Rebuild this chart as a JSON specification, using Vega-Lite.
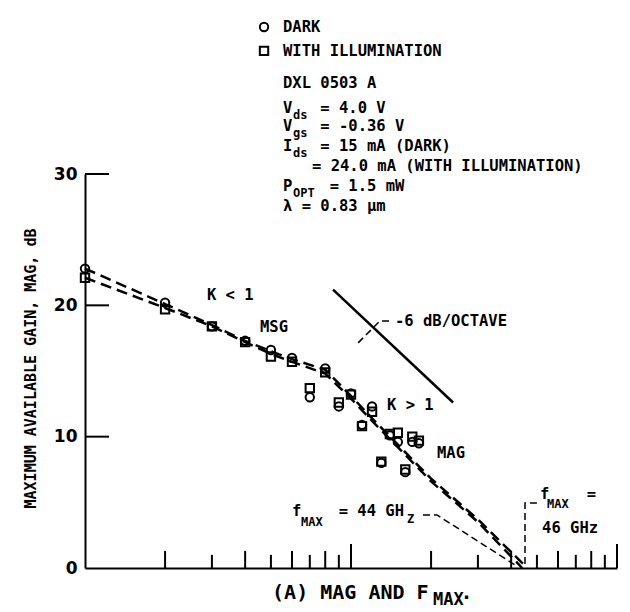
{
  "$schema": "https://vega.github.io/schema/vega-lite/v6.json",
  "width": 532,
  "height": 394,
  "autosize": {"type": "none"},
  "padding": {"left": 85, "top": 174, "right": 13, "bottom": 44},
  "background": "white",
  "config": {"view": {"stroke": null}},
  "datasets": {
    "pts": [
      {"f": 1, "g": 22.8, "s": "DARK"}, {"f": 2, "g": 20.2, "s": "DARK"}, {"f": 3, "g": 18.4, "s": "DARK"},
      {"f": 4, "g": 17.3, "s": "DARK"}, {"f": 5, "g": 16.6, "s": "DARK"}, {"f": 6, "g": 16.0, "s": "DARK"},
      {"f": 7, "g": 13.0, "s": "DARK"}, {"f": 8, "g": 15.2, "s": "DARK"}, {"f": 9, "g": 12.3, "s": "DARK"},
      {"f": 10, "g": 13.3, "s": "DARK"}, {"f": 11, "g": 10.9, "s": "DARK"}, {"f": 12, "g": 12.3, "s": "DARK"},
      {"f": 13, "g": 8.0, "s": "DARK"}, {"f": 14, "g": 10.1, "s": "DARK"}, {"f": 15, "g": 9.6, "s": "DARK"},
      {"f": 16, "g": 7.3, "s": "DARK"}, {"f": 17, "g": 9.6, "s": "DARK"}, {"f": 18, "g": 9.5, "s": "DARK"},
      {"f": 1, "g": 22.1, "s": "WITH ILLUMINATION"}, {"f": 2, "g": 19.7, "s": "WITH ILLUMINATION"}, {"f": 3, "g": 18.4, "s": "WITH ILLUMINATION"},
      {"f": 4, "g": 17.2, "s": "WITH ILLUMINATION"}, {"f": 5, "g": 16.1, "s": "WITH ILLUMINATION"}, {"f": 6, "g": 15.7, "s": "WITH ILLUMINATION"},
      {"f": 7, "g": 13.7, "s": "WITH ILLUMINATION"}, {"f": 8, "g": 14.9, "s": "WITH ILLUMINATION"}, {"f": 9, "g": 12.6, "s": "WITH ILLUMINATION"},
      {"f": 10, "g": 13.2, "s": "WITH ILLUMINATION"}, {"f": 11, "g": 10.8, "s": "WITH ILLUMINATION"}, {"f": 12, "g": 11.9, "s": "WITH ILLUMINATION"},
      {"f": 13, "g": 8.1, "s": "WITH ILLUMINATION"}, {"f": 14, "g": 10.2, "s": "WITH ILLUMINATION"}, {"f": 15, "g": 10.3, "s": "WITH ILLUMINATION"},
      {"f": 16, "g": 7.5, "s": "WITH ILLUMINATION"}, {"f": 17, "g": 10.0, "s": "WITH ILLUMINATION"}, {"f": 18, "g": 9.7, "s": "WITH ILLUMINATION"}
    ],
    "legend": [
      {"f": 4.71, "g": 41.19, "s": "DARK"},
      {"f": 4.71, "g": 39.37, "s": "WITH ILLUMINATION"}
    ],
    "curves": [
      {"f": 1, "g": 22.8, "c": "dark"}, {"f": 2, "g": 20.1, "c": "dark"}, {"f": 3, "g": 18.5, "c": "dark"},
      {"f": 4, "g": 17.3, "c": "dark"}, {"f": 5, "g": 16.5, "c": "dark"}, {"f": 6, "g": 15.9, "c": "dark"},
      {"f": 8, "g": 15.1, "c": "dark"}, {"f": 10, "g": 13.1, "c": "dark"}, {"f": 12, "g": 11.4, "c": "dark"},
      {"f": 15, "g": 9.4, "c": "dark"}, {"f": 20, "g": 6.8, "c": "dark"}, {"f": 25, "g": 5.1, "c": "dark"},
      {"f": 30, "g": 3.7, "c": "dark"}, {"f": 46, "g": 0, "c": "dark"},
      {"f": 1, "g": 22.1, "c": "illum"}, {"f": 2, "g": 19.8, "c": "illum"}, {"f": 3, "g": 18.4, "c": "illum"},
      {"f": 4, "g": 17.2, "c": "illum"}, {"f": 5, "g": 16.3, "c": "illum"}, {"f": 6, "g": 15.7, "c": "illum"},
      {"f": 8, "g": 14.8, "c": "illum"}, {"f": 10, "g": 12.9, "c": "illum"}, {"f": 12, "g": 11.2, "c": "illum"},
      {"f": 15, "g": 9.2, "c": "illum"}, {"f": 20, "g": 6.6, "c": "illum"}, {"f": 25, "g": 4.9, "c": "illum"},
      {"f": 30, "g": 3.5, "c": "illum"}, {"f": 44, "g": 0, "c": "illum"}
    ],
    "slope": [{"f": 8.56, "g": 21.2}, {"f": 24.2, "g": 12.6}],
    "leaders": [
      {"f": 18.65, "g": 4.04, "k": "a", "i": 1}, {"f": 21.05, "g": 4.04, "k": "a", "i": 2}, {"f": 41.36, "g": 0.23, "k": "a", "i": 3},
      {"f": 50.0, "g": 4.95, "k": "b", "i": 1}, {"f": 45.1, "g": 4.95, "k": "b", "i": 2}, {"f": 45.1, "g": 0, "k": "b", "i": 3},
      {"f": 13.9, "g": 18.81, "k": "c", "i": 1}, {"f": 12.85, "g": 18.81, "k": "c", "i": 2}, {"f": 10.62, "g": 17.13, "k": "c", "i": 3}
    ],
    "ytick": [{"g": 10}, {"g": 20}, {"g": 30}],
    "xtickA": [{"f": 10}, {"f": 100}],
    "xtickB": [{"f": 2}, {"f": 4}, {"f": 6}, {"f": 8}, {"f": 20}, {"f": 40}, {"f": 60}, {"f": 80}],
    "xtickC": [{"f": 3}, {"f": 5}, {"f": 7}, {"f": 9}, {"f": 30}, {"f": 50}, {"f": 70}, {"f": 90}],
    "labels": [
      {"f": 5.55, "g": 41.16, "t": "DARK"},
      {"f": 5.55, "g": 39.37, "t": "WITH ILLUMINATION"},
      {"f": 5.55, "g": 36.93, "t": "DXL 0503 A"},
      {"f": 5.55, "g": 35.03, "t": "V\u00a0\u00a0\u00a0= 4.0 V"},
      {"f": 5.55, "g": 33.66, "t": "V\u00a0\u00a0\u00a0= -0.36 V"},
      {"f": 5.55, "g": 32.13, "t": "I\u00a0\u00a0\u00a0= 15 mA (DARK)"},
      {"f": 7.135, "g": 30.61, "t": "= 24.0 mA (WITH ILLUMINATION)"},
      {"f": 5.55, "g": 29.09, "t": "P\u00a0\u00a0\u00a0\u00a0= 1.5 mW"},
      {"f": 5.55, "g": 27.56, "t": "λ = 0.83 μm"},
      {"f": 2.874, "g": 20.79, "t": "K < 1"},
      {"f": 4.55, "g": 18.35, "t": "MSG"},
      {"f": 13.66, "g": 12.41, "t": "K > 1"},
      {"f": 21.05, "g": 8.76, "t": "MAG"},
      {"f": 14.64, "g": 18.81, "t": "-6 dB/OCTAVE"},
      {"f": 6.0, "g": 4.34, "t": "f\u00a0\u00a0\u00a0\u00a0= 44 GH"},
      {"f": 51.35, "g": 5.63, "t": "f\u00a0\u00a0\u00a0\u00a0="},
      {"f": 52.3, "g": 3.05, "t": "46 GHz"}
    ],
    "caption": [
      {"f": 5.05, "g": -1.9, "t": "(A) MAG AND F"},
      {"f": 25.8, "g": -1.9, "t": "."}
    ],
    "subs": [
      {"f": 6.05, "g": 34.52, "t": "ds"},
      {"f": 6.05, "g": 33.15, "t": "gs"},
      {"f": 6.05, "g": 31.62, "t": "ds"},
      {"f": 6.05, "g": 28.58, "t": "OPT"},
      {"f": 6.49, "g": 3.5, "t": "MAX"},
      {"f": 16.24, "g": 3.73, "t": "Z"},
      {"f": 54.56, "g": 4.87, "t": "MAX"}
    ],
    "capsub": [
      {"f": 20.34, "g": -2.44, "t": "MAX"}
    ]
  },
  "layer": [
    {
      "data": {"name": "ytick"},
      "mark": {"type": "rule", "color": "black", "strokeWidth": 2},
      "encoding": {
        "y": {"field": "g", "type": "quantitative", "scale": {"domain": [0, 30], "nice": false},
          "axis": {"values": [0, 10, 20, 30], "ticks": false, "grid": false, "domainColor": "black", "domainWidth": 2,
            "labelFont": "DejaVu Sans", "labelFontWeight": "bold", "labelFontSize": 17, "labelColor": "black", "labelPadding": 8,
            "title": "MAXIMUM AVAILABLE GAIN, MAG, dB", "titleFont": "DejaVu Sans Mono", "titleFontWeight": "bold", "titleFontSize": 15,
            "titleColor": "black", "titleX": -55, "titleY": 194, "titleAngle": 270, "titleBaseline": "middle", "titleAlign": "center"}},
        "x": {"datum": 1, "type": "quantitative", "scale": {"type": "log", "domain": [1, 100], "nice": false},
          "axis": {"ticks": false, "labels": false, "grid": false, "title": null, "domainColor": "black", "domainWidth": 2}},
        "x2": {"datum": 1.231}
      }
    },
    {
      "data": {"name": "xtickA"},
      "mark": {"type": "rule", "color": "black", "strokeWidth": 2},
      "encoding": {"x": {"field": "f", "type": "quantitative"}, "y": {"datum": 0}, "y2": {"datum": 1.83}}
    },
    {
      "data": {"name": "xtickB"},
      "mark": {"type": "rule", "color": "black", "strokeWidth": 2},
      "encoding": {"x": {"field": "f", "type": "quantitative"}, "y": {"datum": 0}, "y2": {"datum": 1.3}}
    },
    {
      "data": {"name": "xtickC"},
      "mark": {"type": "rule", "color": "black", "strokeWidth": 2},
      "encoding": {"x": {"field": "f", "type": "quantitative"}, "y": {"datum": 0}, "y2": {"datum": 1.0}}
    },
    {
      "data": {"name": "curves"},
      "mark": {"type": "line", "color": "black", "strokeWidth": 2.5, "strokeDash": [11, 6]},
      "encoding": {"x": {"field": "f", "type": "quantitative"}, "y": {"field": "g", "type": "quantitative"}, "detail": {"field": "c"}}
    },
    {
      "data": {"name": "slope"},
      "mark": {"type": "line", "color": "black", "strokeWidth": 2.5},
      "encoding": {"x": {"field": "f", "type": "quantitative"}, "y": {"field": "g", "type": "quantitative"}}
    },
    {
      "data": {"name": "leaders"},
      "mark": {"type": "line", "color": "black", "strokeWidth": 1.5, "strokeDash": [7, 4]},
      "encoding": {"x": {"field": "f", "type": "quantitative"}, "y": {"field": "g", "type": "quantitative"}, "detail": {"field": "k"}, "order": {"field": "i"}}
    },
    {
      "data": {"name": "pts"},
      "mark": {"type": "point", "filled": false, "color": "black", "strokeWidth": 2, "size": 70, "opacity": 1},
      "encoding": {"x": {"field": "f", "type": "quantitative"}, "y": {"field": "g", "type": "quantitative"},
        "shape": {"field": "s", "type": "nominal", "scale": {"domain": ["DARK", "WITH ILLUMINATION"], "range": ["circle", "square"]}, "legend": null}}
    },
    {
      "data": {"name": "legend"},
      "mark": {"type": "point", "filled": false, "color": "black", "strokeWidth": 2, "size": 70, "opacity": 1},
      "encoding": {"x": {"field": "f", "type": "quantitative"}, "y": {"field": "g", "type": "quantitative"},
        "shape": {"field": "s", "type": "nominal", "legend": null}}
    },
    {
      "data": {"name": "labels"},
      "mark": {"type": "text", "align": "left", "baseline": "middle", "font": "DejaVu Sans Mono", "fontWeight": "bold", "fontSize": 15.5, "color": "black"},
      "encoding": {"x": {"field": "f", "type": "quantitative"}, "y": {"field": "g", "type": "quantitative"}, "text": {"field": "t"}}
    },
    {
      "data": {"name": "subs"},
      "mark": {"type": "text", "align": "left", "baseline": "middle", "font": "DejaVu Sans Mono", "fontWeight": "bold", "fontSize": 12, "color": "black"},
      "encoding": {"x": {"field": "f", "type": "quantitative"}, "y": {"field": "g", "type": "quantitative"}, "text": {"field": "t"}}
    },
    {
      "data": {"name": "caption"},
      "mark": {"type": "text", "align": "left", "baseline": "middle", "font": "DejaVu Sans Mono", "fontWeight": "bold", "fontSize": 20, "color": "black"},
      "encoding": {"x": {"field": "f", "type": "quantitative"}, "y": {"field": "g", "type": "quantitative"}, "text": {"field": "t"}}
    },
    {
      "data": {"name": "capsub"},
      "mark": {"type": "text", "align": "left", "baseline": "middle", "font": "DejaVu Sans Mono", "fontWeight": "bold", "fontSize": 17, "color": "black"},
      "encoding": {"x": {"field": "f", "type": "quantitative"}, "y": {"field": "g", "type": "quantitative"}, "text": {"field": "t"}}
    }
  ]
}
